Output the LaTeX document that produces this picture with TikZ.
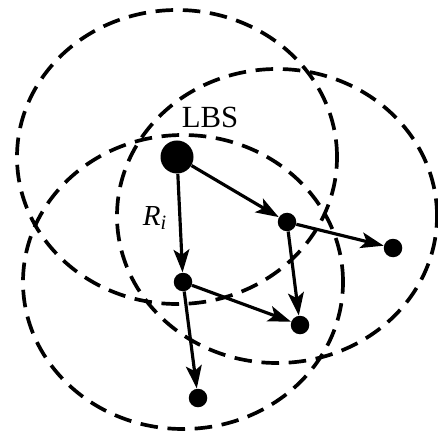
\documentclass[tikz,border=0pt]{standalone}
\usepackage{fontspec}
\setmainfont{Liberation Serif}
\usetikzlibrary{arrows.meta}
\tikzset{
  bsnode/.style={circle,fill=black,inner sep=0pt,minimum size=6.6mm},
  mnode/.style={circle,fill=black,inner sep=0pt,minimum size=3.7mm},
  cover/.style={dash pattern=on 10pt off 5.5pt,line width=2.1pt},
  arr/.style={-{Stealth[length=13pt,width=9pt,inset=3pt]},line width=1.8pt}
}
\begin{document}
\begin{tikzpicture}
    \useasboundingbox (0,0) rectangle (8.76,8.72);
    \node[bsnode] (lbs) at (3.54,5.58) {};
    \node[mnode] (m1) at (5.74,4.28) {};
    \node[mnode] (m2) at (7.86,3.76) {};
    \node[mnode] (m3) at (3.66,3.08) {};
    \node[mnode] (m4) at (6.00,2.22) {};
    \node[mnode] (m5) at (3.96,0.76) {};
    \node[font=\fontsize{17.5}{20}\selectfont] (lbslbl) at (4.20,6.38) {LBS};
    \node[font=\fontsize{16.5}{19}\selectfont] (rlbl) at (3.10,4.36) {\textit{R\textsubscript{i}}};
    \draw[cover] (lbs) ellipse [x radius=3.2,y radius=2.94];
    \draw[cover] (5.54,4.40) ellipse [x radius=3.2,y radius=2.94];
    \draw[cover] (m3) ellipse [x radius=3.2,y radius=2.94];
    \draw[arr] (lbs) -- (m1);
    \draw[arr] (lbs) -- (m3);
    \draw[arr] (m1) -- (m2);
    \draw[arr] (m1) -- (m4);
    \draw[arr] (m3) -- (m4);
    \draw[arr] (m3) -- (m5);
\end{tikzpicture}
\end{document}
